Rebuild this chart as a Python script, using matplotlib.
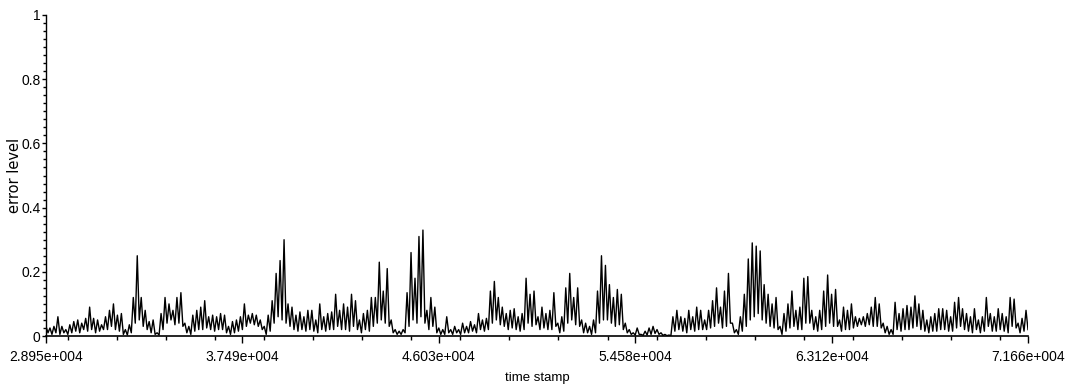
import numpy as np
import matplotlib.pyplot as plt
from matplotlib.ticker import FixedLocator, MultipleLocator

# time stamp range and tick labels
t_start = 28950
t_end = 71660
x_ticks = [28950, 37490, 46030, 54580, 63120, 71660]
x_labels = ['2.895e+004', '3.749e+004', '4.603e+004', '5.458e+004', '6.312e+004', '7.166e+004']
y_ticks = [0, 0.2, 0.4, 0.6, 0.8, 1]
y_labels = ['0', '0.2', '0.4', '0.6', '0.8', '1']

# error level, spike tops (left to right)
peaks = [
    0.03, 0.025, 0.03, 0.06, 0.03, 0.02, 0.035, 0.045, 0.05, 0.04,
    0.055, 0.09, 0.055, 0.05, 0.035, 0.06, 0.08, 0.10, 0.065, 0.07,
    0.02, 0.035, 0.12, 0.25, 0.12, 0.08, 0.045, 0.05, 0.01, 0.07,
    0.12, 0.10, 0.08, 0.12, 0.135, 0.04, 0.03, 0.065, 0.08, 0.09,
    0.11, 0.06, 0.065, 0.06, 0.07, 0.065, 0.03, 0.045, 0.05, 0.06,
    0.10, 0.065, 0.07, 0.065, 0.05, 0.03, 0.065, 0.11, 0.195, 0.235,
    0.30, 0.10, 0.09, 0.065, 0.075, 0.06, 0.08, 0.08, 0.05, 0.10,
    0.06, 0.07, 0.075, 0.13, 0.08, 0.10, 0.09, 0.13, 0.11, 0.05,
    0.07, 0.08, 0.12,
    # middle part
    0.12, 0.23, 0.14, 0.21, 0.05, 0.02, 0.015, 0.02, 0.135, 0.26,
    0.18, 0.31, 0.33, 0.08, 0.12, 0.09, 0.025, 0.02, 0.06, 0.02,
    0.03, 0.02, 0.04, 0.03, 0.045, 0.035, 0.07, 0.05, 0.055, 0.14,
    0.17, 0.12, 0.09, 0.07, 0.08, 0.085, 0.06, 0.07, 0.18, 0.13,
    0.14, 0.06, 0.09, 0.07, 0.08, 0.135, 0.04, 0.06, 0.15, 0.195,
    0.12, 0.15, 0.05, 0.04, 0.03, 0.05, 0.14, 0.25, 0.22, 0.16,
    0.12, 0.145, 0.13, 0.04, 0.02, 0.01, 0.025, 0.005, 0.015, 0.025,
    0.03, 0.02, 0.01, 0.005, 0.003, 0.06, 0.08, 0.06, 0.055, 0.08,
    0.06, 0.09, 0.08,
    # right part
    0.05, 0.08, 0.11, 0.15, 0.09, 0.14, 0.195, 0.04, 0.02, 0.06,
    0.13, 0.24, 0.29, 0.28, 0.265, 0.16, 0.13, 0.10, 0.12, 0.03,
    0.07, 0.10, 0.14, 0.08, 0.09, 0.18, 0.185, 0.08, 0.06, 0.08,
    0.14, 0.19, 0.13, 0.145, 0.05, 0.09, 0.08, 0.10, 0.06, 0.055,
    0.06, 0.07, 0.09, 0.12, 0.10, 0.04, 0.03, 0.02, 0.105, 0.07,
    0.085, 0.095, 0.09, 0.125, 0.10, 0.08, 0.05, 0.06, 0.07, 0.085,
    0.085, 0.08, 0.06, 0.105, 0.12, 0.085, 0.07, 0.06, 0.085, 0.05,
    0.06, 0.12, 0.07, 0.06, 0.085, 0.07, 0.06, 0.12, 0.115, 0.04,
    0.055, 0.08,
]

# error level between spikes
troughs = [
    0.01, 0.005, 0.01, 0.005, 0.01, 0.005, 0.01, 0.015, 0.01, 0.02,
    0.015, 0.02, 0.01, 0.015, 0.02, 0.02, 0.03, 0.02, 0.015, 0.005,
    0.003, 0.01, 0.04, 0.05, 0.03, 0.02, 0.01, 0.005, 0.003, 0.02,
    0.04, 0.05, 0.035, 0.04, 0.03, 0.01, 0.005, 0.015, 0.02, 0.02,
    0.025, 0.02, 0.015, 0.02, 0.02, 0.01, 0.005, 0.01, 0.015, 0.02,
    0.03, 0.04, 0.035, 0.03, 0.02, 0.005, 0.015, 0.04, 0.06, 0.05,
    0.04, 0.03, 0.02, 0.015, 0.02, 0.015, 0.02, 0.015, 0.01, 0.02,
    0.015, 0.02, 0.02, 0.03, 0.02, 0.02, 0.015, 0.03, 0.02, 0.01,
    0.02, 0.015, 0.03,
    0.04, 0.05, 0.04, 0.03, 0.01, 0.005, 0.005, 0.01, 0.03, 0.05,
    0.04, 0.06, 0.04, 0.02, 0.03, 0.01, 0.005, 0.005, 0.01, 0.005,
    0.01, 0.005, 0.01, 0.01, 0.015, 0.01, 0.02, 0.015, 0.02, 0.04,
    0.05, 0.035, 0.03, 0.02, 0.025, 0.02, 0.015, 0.02, 0.04, 0.03,
    0.035, 0.02, 0.025, 0.02, 0.02, 0.03, 0.01, 0.015, 0.04, 0.05,
    0.035, 0.03, 0.01, 0.01, 0.005, 0.01, 0.04, 0.05, 0.05, 0.04,
    0.03, 0.035, 0.02, 0.01, 0.005, 0.003, 0.005, 0.002, 0.003, 0.005,
    0.008, 0.005, 0.002, 0.001, 0.001, 0.015, 0.02, 0.015, 0.01, 0.02,
    0.015, 0.02, 0.02,
    0.02, 0.025, 0.03, 0.04, 0.025, 0.03, 0.04, 0.01, 0.005, 0.015,
    0.03, 0.05, 0.06, 0.07, 0.05, 0.04, 0.03, 0.025, 0.02, 0.005,
    0.015, 0.025, 0.03, 0.02, 0.02, 0.04, 0.04, 0.02, 0.015, 0.02,
    0.03, 0.04, 0.03, 0.03, 0.015, 0.02, 0.02, 0.025, 0.03, 0.035,
    0.03, 0.035, 0.03, 0.03, 0.025, 0.01, 0.005, 0.005, 0.02, 0.015,
    0.02, 0.02, 0.025, 0.03, 0.02, 0.015, 0.01, 0.015, 0.015, 0.02,
    0.02, 0.015, 0.015, 0.025, 0.03, 0.02, 0.015, 0.01, 0.02, 0.01,
    0.015, 0.03, 0.015, 0.015, 0.02, 0.015, 0.01, 0.03, 0.025, 0.01,
    0.015, 0.02,
]

# interleave tops and bottoms into one series
err = np.empty(2 * len(peaks))
err[0::2] = peaks
err[1::2] = troughs
t = np.linspace(t_start, t_end, len(err))

fig = plt.figure(figsize=(10.67, 3.89), dpi=100)
ax = fig.add_axes([46 / 1067, 53 / 389, 982 / 1067, 321 / 389])

ax.plot(t, err, color='black', lw=1.0)

ax.set_xlim(t_start, t_end)
ax.set_ylim(0, 1)

ax.xaxis.set_major_locator(FixedLocator(x_ticks))
ax.set_xticklabels(x_labels)
ax.xaxis.set_minor_locator(MultipleLocator(2135))
ax.set_yticks(y_ticks)
ax.set_yticklabels(y_labels)
ax.yaxis.set_minor_locator(MultipleLocator(0.025))

for s in ['top', 'right']:
    ax.spines[s].set_visible(False)
ax.spines['left'].set_linewidth(1.0)
ax.spines['bottom'].set_linewidth(1.2)

fam = ['Liberation Sans Narrow', 'Liberation Sans']
ax.tick_params(axis='y', which='major', length=3, width=1, pad=1, labelsize=10)
ax.tick_params(axis='y', which='minor', length=2, width=1)
ax.tick_params(axis='x', which='major', length=5, width=1, pad=5, labelsize=10)
ax.tick_params(axis='x', which='minor', length=3, width=1)
for lab in ax.get_xticklabels() + ax.get_yticklabels():
    lab.set_family(fam)

fig.text(15 / 1067, 1 - 175 / 389, 'error level', rotation=90, ha='center', va='center',
         fontsize=10.5, family='DejaVu Sans')
fig.text(537 / 1067, 1 - 378 / 389, 'time stamp', ha='center', va='center',
         fontsize=9.5, family=fam)

fig.savefig('out.png', dpi=100)
